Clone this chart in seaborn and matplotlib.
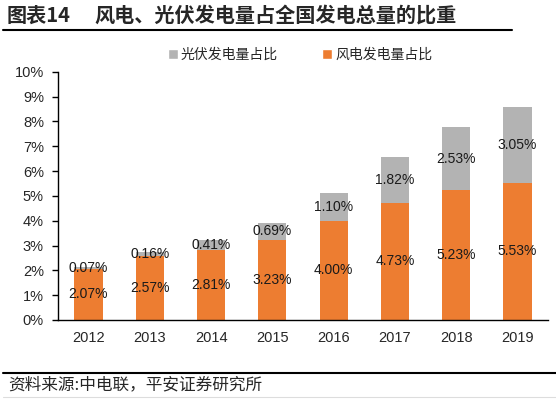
import numpy as np
import pandas as pd
import matplotlib
matplotlib.use("Agg")
import matplotlib.pyplot as plt
import seaborn as sns
from matplotlib.patches import Patch
from matplotlib.lines import Line2D

years = ["2012", "2013", "2014", "2015", "2016", "2017", "2018", "2019"]
wind = [2.07, 2.57, 2.81, 3.23, 4.00, 4.73, 5.23, 5.53]
solar = [0.07, 0.16, 0.41, 0.69, 1.10, 1.82, 2.53, 3.05]
wind_name = "风电发电量占比"
solar_name = "光伏发电量占比"

orange = "#ED7D31"
gray = "#B3B3B3"

sns.set_style("white")
plt.rcParams["font.family"] = ["Liberation Sans", "Noto Sans CJK SC", "DejaVu Sans"]

df = pd.DataFrame({"year": years, "wind": wind, "solar": solar})
df["total"] = df["wind"] + df["solar"]

fig = plt.figure(figsize=(5.56, 3.99), dpi=100)
ax = fig.add_axes([0.104, 0.198, 0.882, 0.622])

# stacked: total in gray behind, wind in orange in front
sns.barplot(data=df, x="year", y="total", color=gray, width=0.46, saturation=1,
            linewidth=0, edgecolor="none", ax=ax)
sns.barplot(data=df, x="year", y="wind", color=orange, width=0.46, saturation=1,
            linewidth=0, edgecolor="none", ax=ax)

for i, (w, s) in enumerate(zip(wind, solar)):
    ax.text(i, w / 2, f"{w:.2f}%", ha="center", va="center", fontsize=10, color="#1a1a1a")
    ax.text(i, w + s / 2, f"{s:.2f}%", ha="center", va="center", fontsize=10, color="#1a1a1a")

ax.set_ylim(0, 10)
ax.set_xlim(-0.5, 7.5)
ax.set_yticks(np.arange(0, 11, 1))
ax.set_yticklabels([f"{v}%" for v in range(11)], fontsize=10.5)
ax.set_xticks(range(len(years)))
ax.set_xticklabels(years, fontsize=10.5)
ax.set_xticks(np.arange(-0.5, 8, 1), minor=True)
ax.tick_params(axis="x", which="major", length=0, pad=8)
ax.tick_params(axis="x", which="minor", length=4, width=1, color="black", direction="out")
ax.tick_params(axis="y", length=4, width=1, color="black", direction="out", left=True, pad=6)
ax.set_xlabel("")
ax.set_ylabel("")
for side in ["top", "right"]:
    ax.spines[side].set_visible(False)
for side in ["left", "bottom"]:
    ax.spines[side].set_color("black")
    ax.spines[side].set_linewidth(1)

handles = [Patch(facecolor=gray, label=solar_name), Patch(facecolor=orange, label=wind_name)]
fig.legend(handles=handles, loc="center", bbox_to_anchor=(0.54, 0.862), ncol=2, frameon=False,
           handlelength=0.7, handleheight=0.7, handletextpad=0.2, columnspacing=3.2,
           prop={"family": ["Noto Sans CJK SC"], "size": 10})

fig.text(0.012, 0.962, "图表14", fontsize=14.5, fontweight="bold", va="center",
         family=["Noto Sans CJK SC"])
fig.text(0.17, 0.962, "风电、光伏发电量占全国发电总量的比重", fontsize=14.5, fontweight="bold",
         va="center", family=["Noto Sans CJK SC"])
fig.add_artist(Line2D([0.005, 0.921], [0.925, 0.925], color="black", linewidth=1.5))

fig.add_artist(Line2D([0.005, 1.0], [0.065, 0.065], color="black", linewidth=1.5))
fig.add_artist(Line2D([0.005, 1.0], [0.004, 0.004], color="#dddddd", linewidth=0.8))
fig.text(0.014, 0.035, "资料来源:中电联，平安证券研究所", fontsize=12, style="italic", va="center",
         family=["Noto Sans CJK SC"])

fig.savefig("out.png", dpi=100)
